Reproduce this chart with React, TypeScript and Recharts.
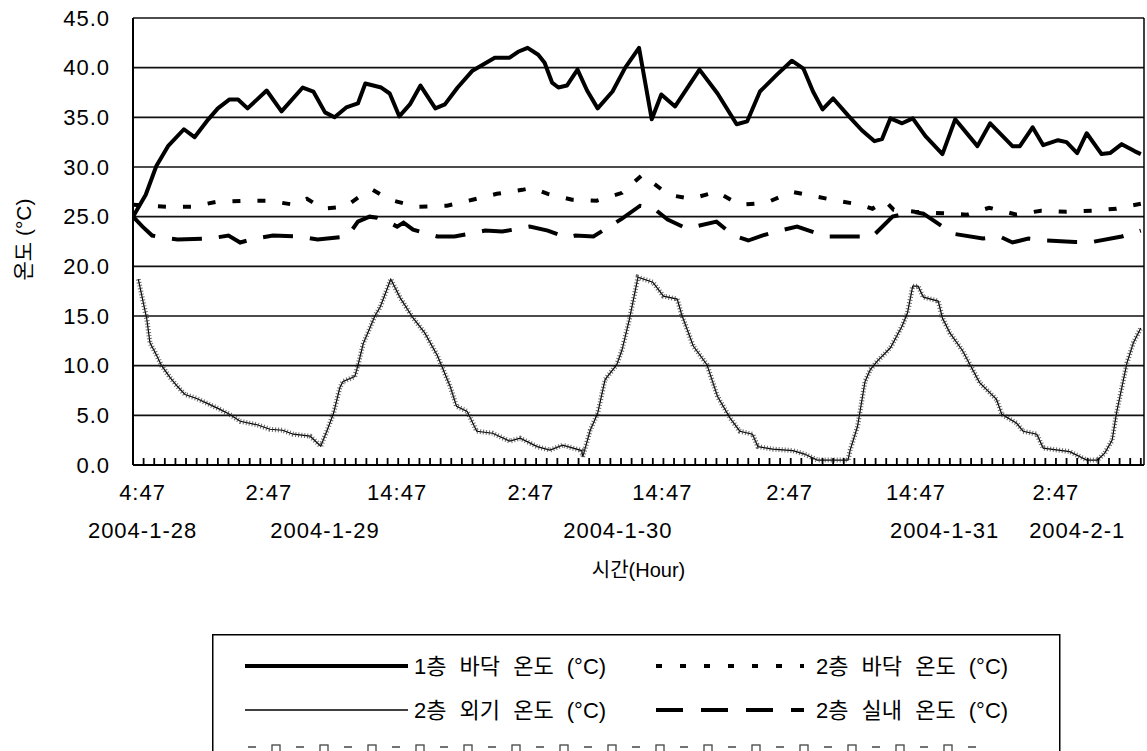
import React from 'react';
import { LineChart, Line, XAxis, YAxis, CartesianGrid, Legend } from 'recharts';

const FONT = "'Liberation Sans', Arial, 'Noto Sans CJK KR', sans-serif";

type Pt = [number, number];

// [hours since first sample, temperature °C]
const floor1Temp: Pt[] = [
  [0, 25.0], [1.2, 27.2], [2.2, 30.1], [3.3, 32.1], [4.8, 33.8], [5.8, 33.0], [7.1, 34.8], [8.0, 35.9],
  [9.1, 36.8], [9.9, 36.8], [10.8, 35.9], [12.6, 37.7], [14.0, 35.6], [16.0, 38.0], [17.0, 37.6], [18.1, 35.5],
  [19.0, 35.0], [20.1, 36.0], [21.2, 36.4], [21.9, 38.4], [23.4, 38.0], [24.2, 37.4], [25.1, 35.1], [26.1, 36.3],
  [27.1, 38.2], [28.5, 35.9], [29.4, 36.3], [30.6, 38.0], [32.0, 39.7], [34.1, 41.0], [35.5, 41.0], [36.3, 41.6],
  [37.2, 42.0], [38.2, 41.3], [38.8, 40.5], [39.5, 38.5], [40.1, 38.0], [40.9, 38.2], [41.9, 39.8], [42.8, 37.7],
  [43.8, 35.9], [45.2, 37.6], [46.4, 40.0], [47.7, 42.0], [48.9, 34.8], [49.8, 37.3], [51.1, 36.1], [53.4, 39.8],
  [55.1, 37.4], [56.9, 34.3], [57.9, 34.6], [59.1, 37.6], [60.7, 39.3], [62.1, 40.7], [63.2, 39.9], [64.1, 37.6],
  [65.0, 35.8], [66.0, 36.9], [67.4, 35.2], [68.7, 33.7], [69.9, 32.6], [70.6, 32.8], [71.4, 34.9], [72.5, 34.4],
  [73.5, 34.9], [74.7, 33.1], [76.3, 31.3], [77.5, 34.8], [79.6, 32.1], [80.8, 34.4], [82.9, 32.1], [83.6, 32.1],
  [84.8, 34.0], [85.8, 32.2], [87.2, 32.7], [88.0, 32.5], [89.0, 31.4], [89.9, 33.4], [91.3, 31.3], [92.1, 31.4],
  [93.2, 32.3], [94.4, 31.6], [95.0, 31.3],
];

const floor2Temp: Pt[] = [
  [0, 26.2], [3.2, 26.0], [5.6, 26.0], [7.9, 26.5], [10.4, 26.6], [12.8, 26.6], [15.2, 26.2], [16.4, 26.8],
  [17.9, 25.8], [20.0, 26.0], [21.6, 27.2], [22.6, 27.7], [24.2, 26.7], [26.8, 26.0], [29.6, 26.1], [32.0, 26.7],
  [34.3, 27.3], [36.7, 27.7], [37.6, 27.9], [39.1, 27.3], [41.4, 26.7], [43.7, 26.6], [46.1, 27.4], [48.0, 29.2],
  [50.5, 27.2], [52.6, 26.8], [55.0, 27.5], [57.2, 26.2], [59.7, 26.4], [62.1, 27.5], [64.5, 27.0], [66.9, 26.5],
  [68.6, 26.2], [69.7, 25.8], [70.9, 26.6], [71.7, 25.7], [73.7, 25.5], [78.6, 25.2], [80.7, 25.9], [83.3, 25.2],
  [85.6, 25.6], [88.0, 25.5], [90.4, 25.6], [92.7, 25.8], [95.0, 26.3],
];

const outdoorTemp: Pt[] = [
  [0.5, 18.7], [0.9, 16.7], [1.3, 14.7], [1.6, 12.3], [2.1, 11.3], [2.7, 10.0], [3.5, 8.8], [4.2, 7.9],
  [4.9, 7.1], [6.0, 6.7], [7.0, 6.2], [8.2, 5.6], [9.1, 5.1], [10.1, 4.4], [11.7, 4.05], [12.9, 3.6],
  [14.1, 3.5], [15.1, 3.1], [16.7, 2.9], [17.7, 1.9], [18.3, 3.5], [18.9, 5.2], [19.5, 7.8], [19.8, 8.4],
  [20.9, 8.9], [21.2, 10.0], [21.7, 12.2], [22.8, 15.0], [23.3, 15.9], [24.3, 18.7], [25.2, 16.8], [26.4, 14.8],
  [27.5, 13.3], [28.7, 11.0], [29.9, 7.9], [30.5, 5.9], [31.5, 5.4], [32.4, 3.4], [33.9, 3.2], [35.5, 2.4],
  [36.5, 2.7], [38.1, 1.85], [39.3, 1.5], [40.5, 2.0], [42.3, 1.45], [42.4, 0.85], [43.1, 3.5], [43.8, 5.2],
  [44.5, 8.6], [45.6, 10.1], [46.1, 11.6], [46.8, 14.7], [47.6, 18.9], [49.0, 18.4], [50.0, 17.0], [51.3, 16.7],
  [51.7, 15.2], [52.8, 12.0], [54.1, 10.1], [55.1, 6.9], [56.3, 4.7], [57.2, 3.4], [58.4, 3.1], [58.9, 1.85],
  [60.3, 1.6], [62.2, 1.45], [63.3, 1.1], [64.5, 0.5], [66.4, 0.5], [67.4, 0.5], [67.6, 1.5], [68.3, 3.9],
  [69.0, 8.4], [69.5, 9.6], [70.2, 10.5], [71.4, 11.8], [72.5, 14.0], [73.0, 15.3], [73.5, 18.0], [74.0, 18.0],
  [74.5, 16.9], [75.9, 16.5], [76.3, 14.8], [77.0, 13.3], [78.2, 11.5], [78.9, 10.1], [79.8, 8.3], [81.4, 6.6],
  [81.9, 5.1], [83.3, 4.2], [83.9, 3.4], [85.2, 3.1], [85.8, 1.7], [88.3, 1.35], [89.9, 0.5], [90.9, 0.5],
  [91.6, 1.2], [92.3, 2.5], [92.7, 5.2], [93.7, 10.3], [94.3, 12.3], [95.0, 13.8],
];

const indoor2Temp: Pt[] = [
  [0, 25.0], [0.9, 24.0], [1.8, 23.1], [2.8, 22.9], [4.2, 22.7], [7.3, 22.8], [9.0, 23.1], [10.1, 22.4],
  [11.5, 22.8], [13.2, 23.1], [15.7, 23.0], [17.4, 22.7], [20.2, 23.0], [21.2, 24.5], [22.3, 25.0], [23.0, 24.9],
  [24.0, 24.5], [24.9, 24.0], [25.5, 24.4], [26.4, 23.7], [28.7, 23.0], [30.3, 23.0], [33.2, 23.6], [34.8, 23.5],
  [37.4, 24.0], [39.1, 23.6], [40.9, 22.9], [41.7, 23.1], [43.4, 23.0], [46.1, 24.8], [47.8, 26.1], [49.0, 25.9],
  [50.4, 24.7], [52.2, 23.8], [55.0, 24.5], [56.6, 23.1], [58.0, 22.6], [59.3, 23.1], [61.0, 23.6], [62.6, 24.0],
  [64.0, 23.5], [65.4, 23.0], [69.7, 23.0], [71.6, 25.0], [73.5, 25.5], [74.5, 25.3], [76.3, 24.0], [77.2, 23.3],
  [80.1, 22.8], [81.7, 23.0], [82.9, 22.4], [84.4, 22.8], [86.0, 22.6], [88.8, 22.45], [90.4, 22.45], [93.2, 23.0],
  [95.0, 23.6],
];

const yTicks = [0, 5, 10, 15, 20, 25, 30, 35, 40, 45];
const hourTicks = Array.from({ length: 95 }, (_, i) => i + 1);
const timeLabels = ['4:47', '2:47', '14:47', '2:47', '14:47', '2:47', '14:47', '2:47'];
const timeLabelHours = [0.9, 12.8, 24.9, 37.5, 49.9, 61.9, 73.8, 87.0];
const dateLabels = ['2004-1-28', '2004-1-29', '2004-1-30', '2004-1-31', '2004-2-1'];
const dateLabelHours = [0.9, 18.1, 45.7, 76.5, 89.0];
const seriesNames = ['1층 바닥 온도 (°C)', '2층 바닥 온도 (°C)', '2층 외기 온도 (°C)', '2층 실내 온도 (°C)'];

const rows = (pts: Pt[]) => pts.map(([h, t]) => ({ h, t }));
const allTicks = Array.from(new Set([...hourTicks, ...timeLabelHours, ...dateLabelHours])).sort((a, b) => a - b);

const XTick = (props: any) => {
  const { x, y, payload } = props;
  const v = payload.value;
  const ti = timeLabelHours.indexOf(v);
  const di = dateLabelHours.indexOf(v);
  return (
    <g>
      {Number.isInteger(v) && <line x1={x} x2={x} y1={y} y2={y - 7} stroke="#000" strokeWidth={1.8} />}
      {ti >= 0 && (
        <text x={x} y={y + 35} textAnchor="middle" fontSize={22} fill="#000" fontFamily={FONT} letterSpacing={1}>
          {timeLabels[ti]}
        </text>
      )}
      {di >= 0 && (
        <text x={x} y={y + 73} textAnchor="middle" fontSize={22} fill="#000" fontFamily={FONT} letterSpacing={1}>
          {dateLabels[di]}
        </text>
      )}
    </g>
  );
};

const YTitle = (props: any) => {
  const vb = props.viewBox || { y: 18, height: 447 };
  return (
    <text
      transform={`translate(23, ${vb.y + vb.height / 2 - 2}) rotate(-90)`}
      textAnchor="middle"
      dominantBaseline="central"
      fontSize={21}
      fill="#000"
      fontFamily={FONT}
    >
      온도 (°C)
    </text>
  );
};

const LegendBox = () => {
  const r1 = 32;
  const r2 = 76;
  const r3 = 116;
  const c1s = 33, c1e = 196, c1t = 202;
  const c2s = 444, c2e = 592, c2t = 604;
  const tStyle = { fontSize: 22, fill: '#000', fontFamily: FONT, style: { wordSpacing: '7px' } } as any;
  const marks: number[] = [];
  for (let k = 0; k < 31; k++) marks.push(40 + k * 24);
  return (
    <svg width={850} height={170} style={{ display: 'block', overflow: 'visible' }}>
      <rect x={0.75} y={0.75} width={847} height={200} fill="#fff" stroke="#000" strokeWidth={1.5} />
      <line x1={c1s} x2={c1e} y1={r1} y2={r1} stroke="#000" strokeWidth={4} />
      <text x={c1t} y={r1} dominantBaseline="central" {...tStyle}>{seriesNames[0]}</text>
      <line x1={c2s} x2={c2e} y1={r1} y2={r1} stroke="#000" strokeWidth={4} strokeDasharray="6 18" />
      <text x={c2t} y={r1} dominantBaseline="central" {...tStyle}>{seriesNames[1]}</text>
      <line x1={c1s} x2={c1e} y1={r2} y2={r2} stroke="#000" strokeWidth={1.6} />
      <text x={c1t} y={r2} dominantBaseline="central" {...tStyle}>{seriesNames[2]}</text>
      <line x1={c2s} x2={c2e} y1={r2} y2={r2} stroke="#000" strokeWidth={4} strokeDasharray="27 18" />
      <text x={c2t} y={r2} dominantBaseline="central" {...tStyle}>{seriesNames[3]}</text>
      {marks.map((m, i) =>
        i % 2 === 0 ? (
          <line key={i} x1={m - 4} x2={m + 4} y1={r3 - 3} y2={r3 - 3} stroke="#444" strokeWidth={1.5} />
        ) : (
          <rect key={i} x={m - 4} y={r3 - 5} width={8} height={8} fill="none" stroke="#444" strokeWidth={1.3} />
        )
      )}
    </svg>
  );
};

export default function App() {
  return (
    <div style={{ width: 1147, height: 751, overflow: 'hidden', background: '#fff', position: 'relative' }}>
      <style>{'body{margin:0;background:#fff}'}</style>
      <LineChart width={1147} height={800} margin={{ top: 18, right: 2, left: 8, bottom: 295 }} style={{ fontFamily: FONT }}>
        <CartesianGrid horizontal vertical={false} stroke="#111" strokeWidth={1.6} />
        <XAxis
          dataKey="h"
          type="number"
          domain={[0, 95.3]}
          allowDataOverflow
          ticks={allTicks}
          interval={0}
          tick={<XTick />}
          tickLine={false}
          tickSize={0}
          tickMargin={0}
          height={40}
          axisLine={{ stroke: '#000', strokeWidth: 2 }}
          label={{ value: '시간(Hour)', position: 'bottom', offset: 58, fill: '#000', fontSize: 20, fontFamily: FONT }}
        />
        <YAxis
          type="number"
          domain={[0, 45]}
          ticks={yTicks}
          interval={0}
          width={125}
          tickSize={0}
          tickMargin={23}
          tickLine={false}
          axisLine={{ stroke: '#000', strokeWidth: 2 }}
          tick={{ fill: '#000', fontSize: 22, fontFamily: FONT, letterSpacing: 1 } as any}
          tickFormatter={(v: number) => v.toFixed(1)}
          label={<YTitle />}
        />
        <YAxis
          yAxisId="right"
          orientation="right"
          type="number"
          domain={[0, 45]}
          width={1}
          tick={false}
          tickLine={false}
          axisLine={{ stroke: '#000', strokeWidth: 1.5 }}
        />
        <Line
          data={rows(outdoorTemp)}
          dataKey="t"
          name={seriesNames[2]}
          type="linear"
          stroke="#000"
          strokeWidth={1.2}
          dot={false}
          activeDot={false}
          isAnimationActive={false}
        />
        <Line
          data={rows(outdoorTemp)}
          dataKey="t"
          name="외기 온도 표시"
          legendType="none"
          type="linear"
          stroke="#333"
          strokeWidth={5}
          strokeDasharray="1 2"
          strokeOpacity={0.75}
          dot={false}
          activeDot={false}
          isAnimationActive={false}
        />
        <Line
          data={rows(indoor2Temp)}
          dataKey="t"
          name={seriesNames[3]}
          type="linear"
          stroke="#000"
          strokeWidth={4}
          strokeDasharray="30 17"
          dot={false}
          activeDot={false}
          isAnimationActive={false}
        />
        <Line
          data={rows(floor2Temp)}
          dataKey="t"
          name={seriesNames[1]}
          type="linear"
          stroke="#000"
          strokeWidth={4}
          strokeDasharray="8 17"
          dot={false}
          activeDot={false}
          isAnimationActive={false}
        />
        <Line
          data={rows(floor1Temp)}
          dataKey="t"
          name={seriesNames[0]}
          type="linear"
          stroke="#000"
          strokeWidth={4}
          strokeLinejoin="round"
          dot={false}
          activeDot={false}
          isAnimationActive={false}
        />
        <Legend
          content={<LegendBox />}
          layout="horizontal"
          verticalAlign="middle"
          align="center"
          wrapperStyle={{ left: 212, top: 634, width: 850, height: 170 }}
        />
      </LineChart>
    </div>
  );
}
